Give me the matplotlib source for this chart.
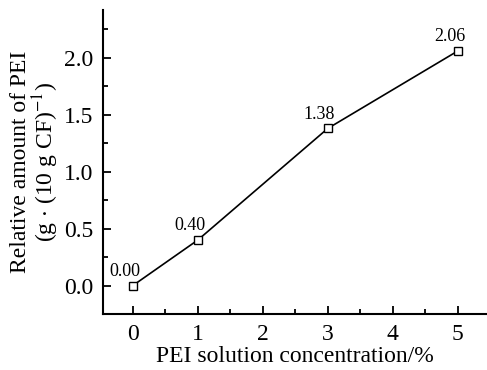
import matplotlib.pyplot as plt
from matplotlib.ticker import MultipleLocator

plt.rcParams['font.family'] = ['Liberation Serif', 'DejaVu Serif']
plt.rcParams['mathtext.fontset'] = 'stix'

conc = [0, 1, 3, 5]
amount = [0.00, 0.40, 1.38, 2.06]
labels = ["0.00", "0.40", "1.38", "2.06"]

fig = plt.figure(figsize=(4.87, 3.70), dpi=100)
ax = fig.add_axes([103 / 487, 56 / 370, 1 - 103 / 487, 304 / 370])

ax.plot(conc, amount, color='black', lw=1.2, marker='s', ms=5.5,
        mfc='white', mec='black', mew=1.0)
for x, y, t in zip(conc, amount, labels):
    ax.annotate(t, (x, y), xytext=(-6, 4), textcoords='offset points',
                ha='center', va='bottom', fontsize=13)

ax.set_xlim(-0.46, 5.45)
ax.set_ylim(-0.25, 2.42)
ax.xaxis.set_major_locator(MultipleLocator(1))
ax.xaxis.set_minor_locator(MultipleLocator(0.5))
ax.yaxis.set_major_locator(MultipleLocator(0.5))
ax.yaxis.set_minor_locator(MultipleLocator(0.25))
ax.yaxis.set_major_formatter(plt.FormatStrFormatter('%.1f'))

for s in ['top', 'right']:
    ax.spines[s].set_visible(False)
for s in ['left', 'bottom']:
    ax.spines[s].set_linewidth(1.5)

ax.tick_params(which='both', direction='in', labelsize=17, width=1.3, pad=7)
ax.tick_params(which='major', length=6)
ax.tick_params(which='minor', length=3.5)

ax.set_xlabel('PEI solution concentration/%', fontsize=17, labelpad=1)
ax.set_ylabel('Relative amount of PEI\n(g $\\cdot$ (10 g CF)$^{-1}$)',
              fontsize=17, linespacing=1.0, labelpad=2)

fig.savefig('out.png', dpi=100)
